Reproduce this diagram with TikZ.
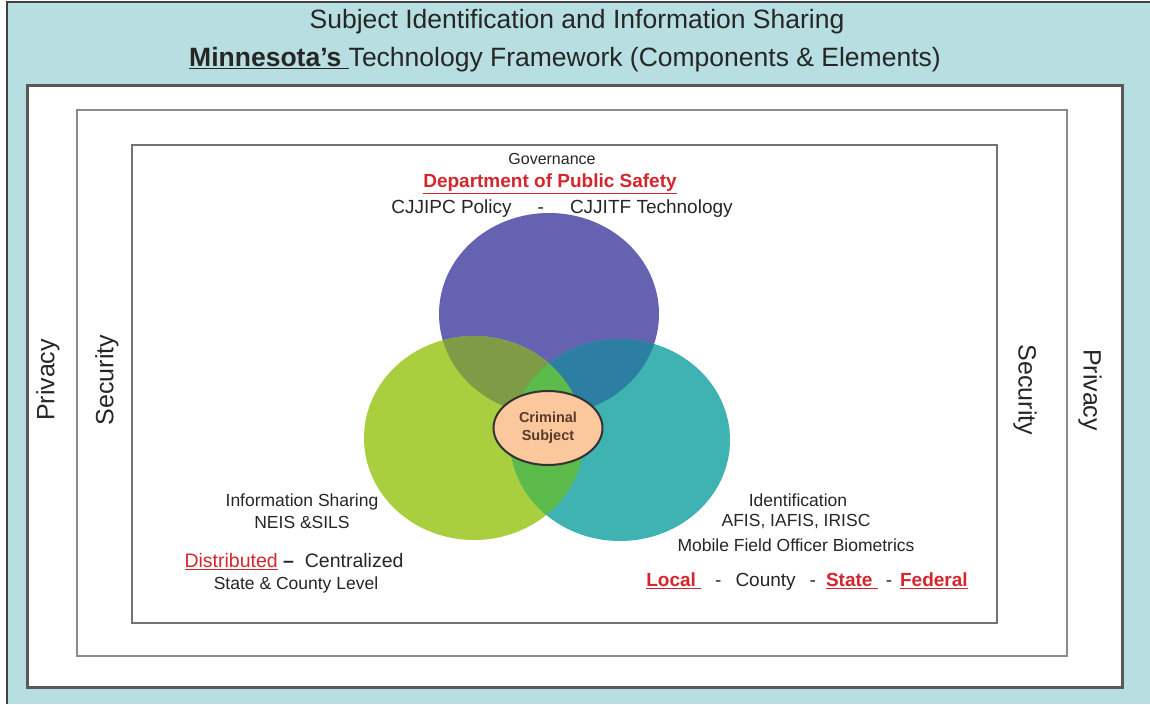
\documentclass[tikz,border=0pt]{standalone}
\usepackage{fontspec}
\setmainfont{Liberation Sans}
\usetikzlibrary{shapes.geometric}

\definecolor{frameteal}{HTML}{B7DFE1}
\definecolor{govblue}{HTML}{6562B2}
\definecolor{sharegreen}{HTML}{A9CF3F}
\definecolor{identteal}{HTML}{3EB3B1}
\definecolor{govshare}{HTML}{7F9B45}
\definecolor{govident}{HTML}{2C7FA2}
\definecolor{shareident}{HTML}{5CBB4A}
\definecolor{subjpeach}{HTML}{FAC89C}
\definecolor{subjbrown}{HTML}{5A3A2A}
\definecolor{dpsred}{HTML}{D4262E}

\tikzset{
  outerframe/.style={draw=black!65, line width=3pt},
  midframe/.style={draw=black!45, line width=2.5pt},
  innerframe/.style={draw=black!55, line width=2pt},
  titletext/.style={font=\fontsize{26.5}{32}\selectfont, text=black!85, inner sep=0pt},
  sidetext/.style={font=\fontsize{25}{30}\selectfont, text=black!85, inner sep=0pt},
  labeltext/.style={font=\fontsize{17.5}{21}\selectfont, text=black!85, inner sep=0pt},
  bigtext/.style={font=\fontsize{19}{23}\selectfont, text=black!85, inner sep=0pt},
  subject/.style={ellipse, draw=black!80, line width=2pt, fill=subjpeach,
    minimum width=109pt, minimum height=74pt, inner sep=0pt, align=center,
    font=\fontsize{14.5}{18}\selectfont\bfseries, text=subjbrown}
}
\newcommand{\redul}[1]{\textcolor{dpsred}{\underline{#1}}}

\begin{document}
\begin{tikzpicture}[x=1pt,y=-1pt]
  \useasboundingbox (0,0) rectangle (1150,704);
  \fill[white] (0,0) rectangle (1150,704);
  \fill[frameteal] (7,2) rectangle (1150,704);
  \draw[line width=2pt, black!75] (7,704) -- (7,2) -- (1150,2);

  % nested frames
  \fill[white] (27,85) rectangle (1122,687);
  \draw[outerframe] (27,85) rectangle (1122,687);
  \draw[midframe] (77,110) rectangle (1067,656);
  \draw[innerframe] (132,145) rectangle (997,623);

  % title
  \node[titletext] (title) at (577,22) {Subject Identification and Information Sharing};
  \node[titletext] (subtitle) at (565,60) {\textbf{\underline{Minnesota's\ }}Technology Framework (Components \& Elements)};

  % privacy / security
  \node[sidetext, rotate=90] (privl) at (48,380) {Privacy};
  \node[sidetext, rotate=90] (secl) at (107,380) {Security};
  \node[sidetext, rotate=-90] (secr) at (1025,390) {Security};
  \node[sidetext, rotate=-90] (privr) at (1090,390) {Privacy};

  % circles
  \coordinate (gov) at (549,314);
  \coordinate (share) at (474,438);
  \coordinate (ident) at (620,440);
  \fill[govblue] (gov) ellipse [x radius=110, y radius=101];
  \fill[sharegreen] (share) ellipse [x radius=110, y radius=102];
  \fill[identteal] (ident) ellipse [x radius=110, y radius=101];
  \begin{scope}
    \clip (gov) ellipse [x radius=110, y radius=101];
    \fill[govshare] (share) ellipse [x radius=110, y radius=102];
    \fill[govident] (ident) ellipse [x radius=110, y radius=101];
  \end{scope}
  \begin{scope}
    \clip (share) ellipse [x radius=110, y radius=102];
    \fill[shareident] (ident) ellipse [x radius=110, y radius=101];
  \end{scope}
  \node[subject] (crim) at (548,428) {Criminal\\Subject};

  % governance
  \node[labeltext, font=\fontsize{16}{19}\selectfont] (govhead) at (552,159) {Governance};
  \node[bigtext] (dps) at (550,184) {\textbf{\redul{Department of Public Safety}}};
  \node[bigtext] (cjj) at (562,209) {CJJIPC Policy\hspace{26pt}-\hspace{26pt}CJJITF Technology};

  % information sharing
  \node[labeltext] (sharehead) at (302,502) {Information Sharing};
  \node[labeltext] (neis) at (302,522) {NEIS \&SILS};
  \node[bigtext, font=\fontsize{19.5}{23}\selectfont] (distr) at (294,562) {\redul{Distributed} \textbf{--}\ \ Centralized};
  \node[labeltext] (level) at (296,585) {State \& County Level};

  % identification
  \node[labeltext] (identhead) at (798,500) {Identification};
  \node[labeltext] (afis) at (796,522) {AFIS, IAFIS, IRISC};
  \node[labeltext] (mobile) at (796,545) {Mobile Field Officer Biometrics};
  \node[bigtext] (juris) at (807,582) {\textbf{\redul{Local\ }}\hspace{14pt}-\hspace{14pt}County\hspace{14pt}-\hspace{10pt}\textbf{\redul{State\ }}\hspace{8pt}-\hspace{8pt}\textbf{\redul{Federal}}};
\end{tikzpicture}
\end{document}
